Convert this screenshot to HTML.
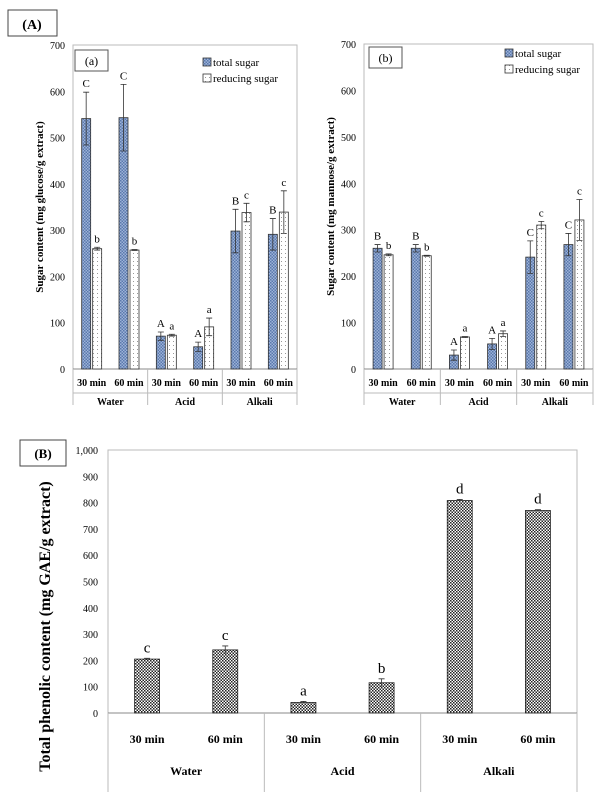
<!DOCTYPE html>
<html><head><meta charset="utf-8"><style>
body{margin:0;background:#fff;}
svg{display:block;font-family:"Liberation Serif",serif;}
</style></head><body>
<svg id="s" width="601" height="802" viewBox="0 0 601 802">
<defs>
<pattern id="pTot" width="3" height="3" patternUnits="userSpaceOnUse"><rect width="3" height="3" fill="#9db3d8"/><rect width="1.5" height="1.5" fill="#5a78ad"/><rect x="1.5" y="1.5" width="1.5" height="1.5" fill="#5a78ad"/></pattern>
<pattern id="pRed" width="4" height="4" patternUnits="userSpaceOnUse"><rect width="4" height="4" fill="#fff"/><rect x="1" y="1" width="1" height="1" fill="#999"/></pattern>
<pattern id="pPh" width="3" height="3" patternUnits="userSpaceOnUse"><rect width="3" height="3" fill="#fff"/><rect width="1.5" height="1.5" fill="#222"/><rect x="1.5" y="1.5" width="1.5" height="1.5" fill="#222"/></pattern>
</defs>
<rect x="8" y="10" width="49" height="26" fill="none" stroke="#444"/>
<text x="32" y="29" font-size="14" font-weight="bold" text-anchor="middle">(A)</text>
<g id="ga"></g><g id="gb"></g><g id="gc"></g>
</svg>
<script>
const groups=["Water","Acid","Alkali"];
const times=["30 min","60 min","30 min","60 min","30 min","60 min"];
const aTotal=[541,543,71,48,298,291];
const aTotalErr=[57,72,9,10,47,34];
const aRed=[260,257,73,91,338,339];
const aRedErr=[3,1,2,19,20,46];
const aTotLet=["C","C","A","A","B","B"];
const aRedLet=["b","b","a","a","c","c"];
const bTotal=[260,260,30,54,241,268];
const bTotalErr=[8,8,11,12,35,24];
const bRed=[246,244,69,76,310,321];
const bRedErr=[2,1,1,6,8,44];
const bTotLet=["B","B","A","A","C","C"];
const bRedLet=["b","b","a","a","c","c"];
const yTicksA=[0,100,200,300,400,500,600,700];
const phen=[205,240,40,115,808,770];
const phenErr=[3,15,4,15,4,3];
const phenLet=["c","c","a","b","d","d"];
const yTicksB=[0,100,200,300,400,500,600,700,800,900,1000];
const yTickLabB=["0","100","200","300","400","500","600","700","800","900","1,000"];
const NS="http://www.w3.org/2000/svg";
function mk(p,t,a,txt){const e=document.createElementNS(NS,t);for(const k in a)e.setAttribute(k,a[k]);if(txt!==undefined)e.textContent=txt;p.appendChild(e);return e;}
function sugar(g,L,R,T,B,tot,totE,red,redE,tl,rl,title,lab,labX,labY,legX,legY){
  const y=v=>B-(v/700)*(B-T);const gw=(R-L)/6;
  let e=mk(g,'rect',{x:L,y:T,width:R-L,height:B-T,fill:'none',stroke:'#bbb'});
  
  yTicksA.forEach(v=>{e=mk(g,'text',{x:L-8,y:y(v)+4,'font-size':10,'text-anchor':'end'},v);
    });
  e=mk(g,'text',{transform:`translate(${L-30},${(T+B)/2}) rotate(-90)`,'font-size':11,'font-weight':'bold','text-anchor':'middle'},title);
  
  e=mk(g,'rect',{x:labX,y:labY,width:33,height:21,fill:'#fff',stroke:'#555'});
  
  e=mk(g,'text',{x:labX+16.5,y:labY+15,'font-size':12,'text-anchor':'middle'},lab);
  
  [['pTot','total sugar',0],['pRed','reducing sugar',16]].forEach(([p,t,dy])=>{
    e=mk(g,'rect',{x:legX,y:legY+dy-8,width:8,height:8,fill:`url(#${p})`,stroke:'#333','stroke-width':0.8});
    
    e=mk(g,'text',{x:legX+10,y:legY+dy,'font-size':11},t);
    });
  mk(g,'line',{x1:L,y1:B,x2:R,y2:B,stroke:'#888'});
  for(let i=0;i<6;i++){
    const c=L+gw*(i+0.5),bw=9;
    [[tot,totE,tl,c-bw-1,'pTot','bar-total-sugar'],[red,redE,rl,c+1,'pRed','bar-reducing-sugar']].forEach(([d,de,lt,x,p,n])=>{
      e=mk(g,'rect',{x:x,y:y(d[i]),width:bw,height:B-y(d[i]),fill:`url(#${p})`,stroke:'#333','stroke-width':0.8});
      
      const cx=x+bw/2,t=y(d[i]+de[i]),b=y(d[i]-de[i]);
      e=mk(g,'path',{d:`M${cx},${b}V${t}M${cx-3},${t}H${cx+3}M${cx-3},${b}H${cx+3}`,stroke:'#333','stroke-width':0.8,fill:'none'});
      
      e=mk(g,'text',{x:cx,y:t-5,'font-size':11,'text-anchor':'middle'},lt[i]);
      });
    e=mk(g,'text',{x:c,y:B+17,'font-size':10,'font-weight':'bold','text-anchor':'middle'},times[i]);
    }
  for(let j=0;j<=3;j++){mk(g,'line',{x1:L+gw*2*j,y1:B,x2:L+gw*2*j,y2:B+36,stroke:'#bbb'});}
  mk(g,'line',{x1:L,y1:B+24,x2:R,y2:B+24,stroke:'#bbb'});
  groups.forEach((n,j)=>{e=mk(g,'text',{x:L+gw*(2*j+1),y:B+36,'font-size':10,'font-weight':'bold','text-anchor':'middle'},n);
    });
}
sugar(document.getElementById('ga'),73,297,45,369,aTotal,aTotalErr,aRed,aRedErr,aTotLet,aRedLet,'Sugar content (mg glucose/g extract)','(a)',75,50,203,66);
sugar(document.getElementById('gb'),364,593,44,369,bTotal,bTotalErr,bRed,bRedErr,bTotLet,bRedLet,'Sugar content (mg mannose/g extract)','(b)',369,47,505,57);
(function(){
  const g=document.getElementById('gc');const L=108,R=577,T=450,B=713;
  const y=v=>B-(v/1000)*(B-T);const gw=(R-L)/6;let e;
  e=mk(g,'rect',{x:20,y:440,width:46,height:26,fill:'#fff',stroke:'#444'});
  
  e=mk(g,'text',{x:43,y:458,'font-size':13,'font-weight':'bold','text-anchor':'middle'},'(B)');
  
  mk(g,'rect',{x:L,y:T,width:R-L,height:B-T,fill:'none',stroke:'#bbb'});
  yTicksB.forEach((v,i)=>{e=mk(g,'text',{x:L-10,y:y(v)+4,'font-size':10,'text-anchor':'end'},yTickLabB[i]);
    });
  e=mk(g,'text',{transform:`translate(50,${(T+B)/2+45}) rotate(-90)`,'font-size':16,'font-weight':'bold','text-anchor':'middle'},'Total phenolic content (mg GAE/g extract)');
  
  mk(g,'line',{x1:L,y1:B,x2:R,y2:B,stroke:'#888'});
  for(let i=0;i<6;i++){const c=L+gw*(i+0.5),bw=25;
    e=mk(g,'rect',{x:c-bw/2,y:y(phen[i]),width:bw,height:B-y(phen[i]),fill:'url(#pPh)',stroke:'#222','stroke-width':0.8});
    
    const t=y(phen[i]+phenErr[i]),b=y(phen[i]-phenErr[i]);
    e=mk(g,'path',{d:`M${c},${b}V${t}M${c-3},${t}H${c+3}`,stroke:'#333','stroke-width':0.8,fill:'none'});
    
    e=mk(g,'text',{x:c,y:t-6,'font-size':15,'text-anchor':'middle'},phenLet[i]);
    
    e=mk(g,'text',{x:c,y:B+30,'font-size':12,'font-weight':'bold','text-anchor':'middle'},times[i]);
    }
  for(let j=0;j<=3;j++){mk(g,'line',{x1:L+gw*2*j,y1:B,x2:L+gw*2*j,y2:B+79,stroke:'#bbb'});}
  groups.forEach((n,j)=>{e=mk(g,'text',{x:L+gw*(2*j+1),y:B+62,'font-size':12,'font-weight':'bold','text-anchor':'middle'},n);
    });
})();
</script>
</body></html>
